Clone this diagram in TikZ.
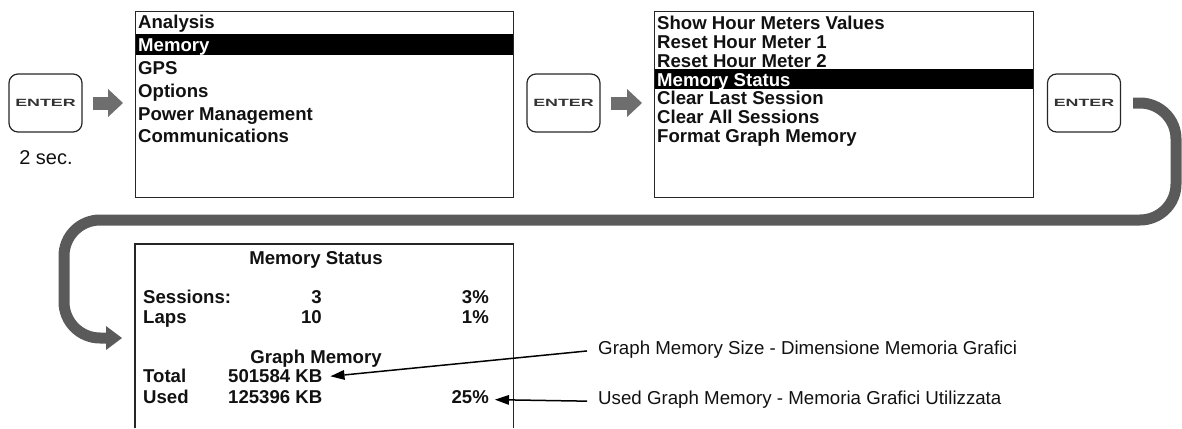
\documentclass[tikz,border=0pt]{standalone}
\usepackage{fontspec}
\setmainfont{Liberation Sans}
\usetikzlibrary{arrows.meta,calc}
\definecolor{bandgray}{HTML}{5A5A5A}
\definecolor{arrgray}{HTML}{6E6E6E}
\definecolor{ink}{HTML}{111111}
\begin{document}
\begin{tikzpicture}[x=1pt,y=-1pt,
  key/.style={draw=black!85, line width=1.2pt, rounded corners=9pt, minimum width=73pt, minimum height=58pt, inner sep=0pt,
    font=\fontsize{10.5}{11}\selectfont\bfseries, text=black!80},
  menubox/.style={draw=black!85, line width=1.2pt, anchor=north west, inner sep=0pt},
  item/.style={anchor=base west, inner sep=0pt, font=\fontsize{18.6}{22}\selectfont\bfseries, text=ink},
  hitem/.style={item, text=white},
  hbar/.style={fill=black},
  smallarrow/.style={draw=arrgray, line width=13pt, -{Triangle[width=28pt,length=15pt,line width=0pt]}},
  band/.style={draw=bandgray, line width=11pt, rounded corners=36pt, -{Triangle[width=24pt,length=16pt,line width=0pt]}},
  callout/.style={draw=black, line width=1.5pt, -{Triangle[width=10pt,length=14pt,line width=0pt]}},
  lab/.style={anchor=base west, inner sep=0pt, font=\fontsize{18.7}{22}\selectfont, text=ink}
]
\useasboundingbox (0,0) rectangle (1182,428);

% keys
\node[key] (k1) at (45.5,103) {\scalebox{1.7}[1]{ENTER}};
\node[key] (k2) at (563.5,103) {\scalebox{1.7}[1]{ENTER}};
\node[key] (k3) at (1084,103) {\scalebox{1.7}[1]{ENTER}};
\node[inner sep=0pt, anchor=base, font=\fontsize{20}{24}\selectfont, text=ink] (sec) at (46,164) {2 sec.};

% highlight bars
\fill[hbar] (135,34) rectangle (513,55);
\fill[hbar] (654,69) rectangle (1033,89);

% menu boxes
\node[menubox, minimum width=378pt, minimum height=186pt] (m1) at (135,11) {};
\node[menubox, minimum width=379pt, minimum height=186pt] (m2) at (654,11) {};
\node[anchor=north west, inner sep=0pt, minimum width=378pt, minimum height=184pt] (m3) at (135,244) {};
\draw[draw=black!85, line width=1.2pt] (m3.south west) -- (m3.north west) -- (m3.north east) -- (m3.south east);

% menu 1
\node[item]  (a1) at (138,28.5) {Analysis};
\node[hitem] (a2) at (138,51.5) {Memory};
\node[item]  (a3) at (138,74.5) {GPS};
\node[item]  (a4) at (138,97.3) {Options};
\node[item]  (a5) at (138,120.2) {Power Management};
\node[item]  (a6) at (138,142.7) {Communications};

% menu 2
\node[item]  (b1) at (657,29.3) {Show Hour Meters Values};
\node[item]  (b2) at (657,48.2) {Reset Hour Meter 1};
\node[item]  (b3) at (657,67.1) {Reset Hour Meter 2};
\node[hitem] (b4) at (657,86) {Memory Status};
\node[item]  (b5) at (657,104.9) {Clear Last Session};
\node[item]  (b6) at (657,123.8) {Clear All Sessions};
\node[item]  (b7) at (657,142.7) {Format Graph Memory};

% memory status screen
\node[item, anchor=base] (c0) at (316,264) {Memory Status};
\node[item] (c1) at (143,303.3) {Sessions:};
\node[item, anchor=base east] (c1v) at (322,303.3) {3};
\node[item, anchor=base east] (c1p) at (489,303.3) {3\%};
\node[item] (c2) at (143,323.3) {Laps};
\node[item, anchor=base east] (c2v) at (322,323.3) {10};
\node[item, anchor=base east] (c2p) at (489,323.3) {1\%};
\node[item, anchor=base] (c3) at (316,363.3) {Graph Memory};
\node[item] (c4) at (143,382.7) {Total};
\node[item] (c4v) at (228,382.7) {501584 KB};
\node[item] (c5) at (143,403.3) {Used};
\node[item] (c5v) at (228,403.3) {125396 KB};
\node[item, anchor=base east] (c5p) at (489,403.3) {25\%};

% labels
\node[lab] (l1) at (598,354.3) {Graph Memory Size - Dimensione Memoria Grafici};
\node[lab] (l2) at (598,404.5) {Used Graph Memory - Memoria Grafici Utilizzata};

% small arrows
\draw[smallarrow] ([xshift=10pt]k1.east) -- ([xshift=-12pt]k1.east -| m1.west);
\draw[smallarrow] ([xshift=10pt]k2.east) -- ([xshift=-12pt]k2.east -| m2.west);

% big band arrow
\coordinate (bandend) at ([xshift=-13pt]m3.north west |- 0,338);
\draw[band] ([xshift=12pt]k3.east) -- (1176,103) -- (1176,220) -- (64,220) -- (64,338) -- (bandend);

% callouts
\draw[callout] ([xshift=-11pt,yshift=-1.5pt]l1.west) -- ([xshift=8pt]c4v.east);
\draw[callout] ([xshift=-11pt,yshift=-1.5pt]l2.west) -- ([xshift=6pt]c5p.east |- l2.west);
\end{tikzpicture}
\end{document}
